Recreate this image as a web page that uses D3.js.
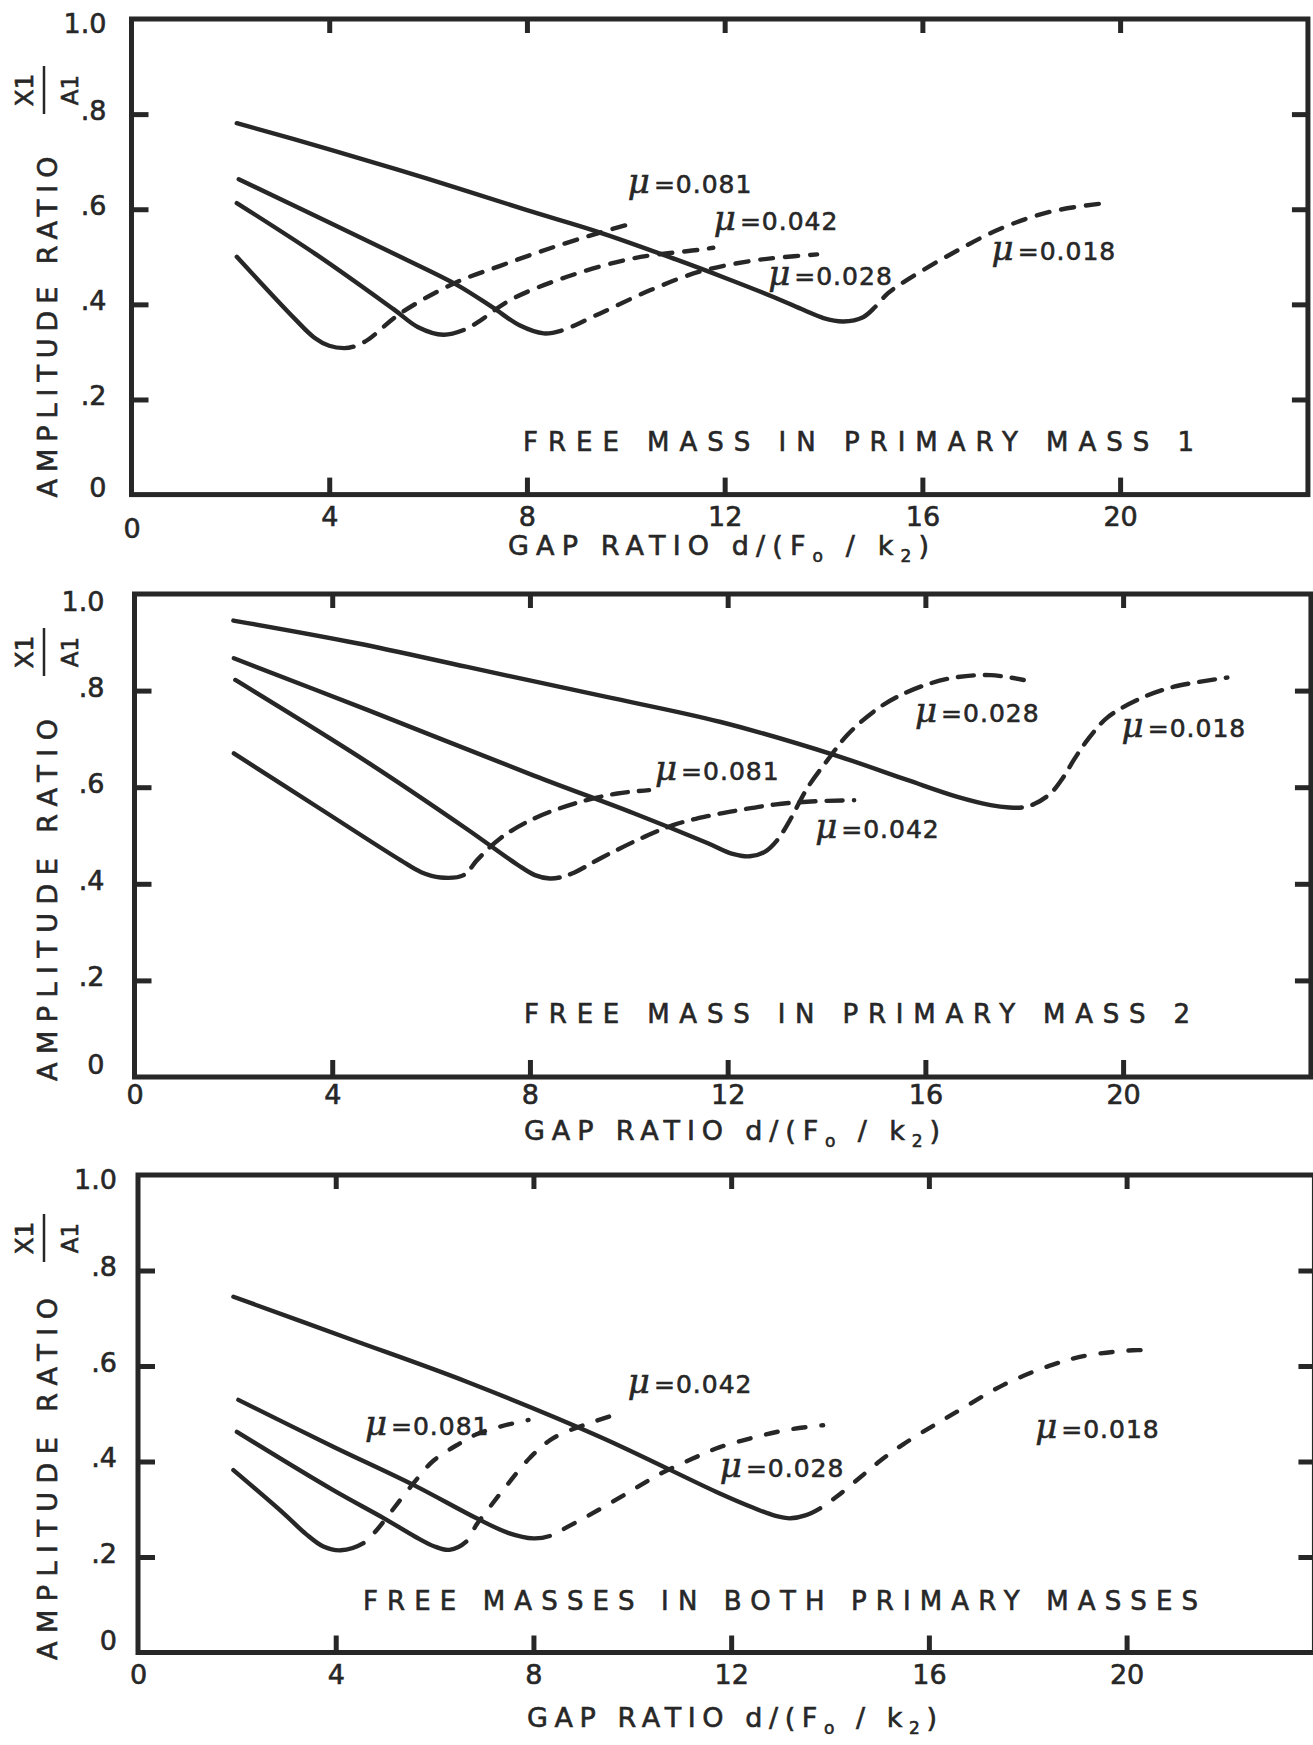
<!DOCTYPE html>
<html>
<head>
<meta charset="utf-8">
<script src="https://cdn.jsdelivr.net/npm/d3@7"></script>
<style>
  html, body { margin: 0; padding: 0; background: #ffffff; }
  svg { display: block; }
  text { font-family: "DejaVu Sans", "Liberation Sans", sans-serif; fill: #272727; stroke: #272727; stroke-width: 0.6px; }
</style>
</head>
<body>
<svg id="chart" width="1313" height="1745"></svg>
<script>
// ---------------- data ----------------
const xTickValues = [0, 4, 8, 12, 16, 20];
const yTickValues = [0, 0.2, 0.4, 0.6, 0.8, 1.0];
const yTickText = ["0", ".2", ".4", ".6", ".8", "1.0"];
const muNames = ["0.081", "0.042", "0.028", "0.018"];
const panelTitles = [
  "FREE MASS IN PRIMARY MASS 1",
  "FREE MASS IN PRIMARY MASS 2",
  "FREE MASSES IN BOTH PRIMARY MASSES"
];
const yTitle = "AMPLITUDE RATIO";
const xTitleParts = ["GAP RATIO d/(F", "o", " / k", "2", ")"];
const fracTop = "X1";
const fracBottom = "A1";

// Points are [gap ratio d/(Fo/k2), amplitude ratio X1/A1].
// Solid part: measured response; dashed part continues from the last solid point.

// Panel 1: free mass in primary mass 1
const m1Mu081Solid  = [[2.13,0.500],[3.30,0.370],[3.70,0.330],[4.00,0.313],[4.30,0.308],[4.49,0.311]];
const m1Mu081Dashed = [[4.49,0.311],[4.76,0.324],[5.44,0.381],[6.52,0.444],[7.46,0.481],[8.47,0.518],[9.48,0.551],[10.09,0.569]];
const m1Mu042Solid  = [[2.13,0.613],[3.75,0.504],[5.30,0.390],[5.80,0.352],[6.31,0.336],[6.72,0.346]];
const m1Mu042Dashed = [[6.72,0.346],[7.00,0.362],[7.66,0.409],[8.81,0.458],[10.16,0.497],[11.50,0.515],[11.77,0.519]];
const m1Mu028Solid  = [[2.17,0.663],[4.00,0.572],[5.50,0.497],[6.60,0.440],[7.30,0.394],[7.85,0.356],[8.34,0.339],[8.70,0.345]];
const m1Mu028Dashed = [[8.70,0.345],[9.48,0.381],[10.50,0.430],[11.50,0.469],[12.45,0.490],[13.06,0.498],[13.87,0.505]];
const m1Mu018Solid  = [[2.13,0.781],[4.00,0.726],[6.00,0.664],[8.00,0.598],[9.42,0.553],[11.00,0.495],[12.00,0.456],[13.00,0.415],[13.60,0.388],[14.00,0.371],[14.40,0.364],[14.80,0.373],[15.05,0.395]];
const m1Mu018Dashed = [[15.05,0.395],[15.30,0.423],[15.70,0.452],[16.60,0.507],[17.60,0.560],[18.60,0.595],[19.70,0.613]];
const m1LabelAt = [[10.04,0.634],[11.78,0.556],[12.88,0.441],[17.40,0.493]];

// Panel 2: free mass in primary mass 2
const m2Mu081Solid  = [[2.01,0.670],[3.70,0.559],[5.38,0.449],[5.80,0.424],[6.19,0.413],[6.66,0.418]];
const m2Mu081Dashed = [[6.66,0.418],[6.93,0.449],[7.41,0.495],[8.08,0.535],[8.96,0.568],[9.77,0.587],[10.41,0.594]];
const m2Mu042Solid  = [[2.04,0.822],[4.71,0.652],[6.73,0.513],[7.74,0.440],[8.10,0.418],[8.40,0.411],[8.60,0.413]];
const m2Mu042Dashed = [[8.60,0.413],[8.89,0.423],[9.43,0.453],[10.31,0.497],[10.91,0.522],[11.59,0.540],[12.26,0.553],[12.94,0.564],[13.61,0.570],[14.56,0.573]];
const m2Mu028Solid  = [[2.01,0.867],[4.71,0.760],[8.08,0.624],[10.10,0.546],[11.60,0.484],[12.10,0.462],[12.45,0.457],[12.75,0.466],[13.00,0.490]];
const m2Mu028Dashed = [[13.00,0.490],[13.25,0.530],[13.61,0.598],[14.02,0.656],[14.42,0.708],[14.96,0.757],[15.43,0.787],[16.04,0.813],[16.65,0.828],[17.32,0.832],[17.99,0.822]];
const m2Mu018Solid  = [[2.00,0.945],[4.50,0.898],[6.73,0.849],[9.50,0.788],[11.86,0.735],[14.15,0.667],[15.63,0.615],[16.65,0.580],[17.32,0.563],[17.70,0.558],[17.95,0.558]];
const m2Mu018Dashed = [[17.95,0.558],[18.20,0.565],[18.53,0.587],[18.80,0.622],[19.00,0.656],[19.28,0.698],[19.68,0.744],[20.36,0.784],[21.03,0.808],[22.11,0.827]];
const m2LabelAt = [[10.53,0.615],[13.77,0.495],[15.79,0.736],[19.97,0.704]];

// Panel 3: free masses in both primary masses
const m3Mu081Solid  = [[1.93,0.382],[2.94,0.292],[3.40,0.248],[3.75,0.222],[4.10,0.214],[4.56,0.229]];
const m3Mu081Dashed = [[4.56,0.229],[4.80,0.253],[5.10,0.292],[5.57,0.354],[5.97,0.401],[6.51,0.438],[6.85,0.457],[7.32,0.473],[7.90,0.487]];
const m3Mu042Solid  = [[2.00,0.462],[3.95,0.340],[4.96,0.282],[5.60,0.243],[6.00,0.222],[6.30,0.215],[6.64,0.232]];
const m3Mu042Dashed = [[6.64,0.232],[6.85,0.268],[7.12,0.305],[7.46,0.350],[7.93,0.408],[8.40,0.449],[9.21,0.483],[9.75,0.501]];
const m3Mu028Solid  = [[2.03,0.529],[3.95,0.431],[5.57,0.351],[6.85,0.281],[7.50,0.250],[8.00,0.239],[8.33,0.244]];
const m3Mu028Dashed = [[8.33,0.244],[8.67,0.262],[9.34,0.300],[10.00,0.340],[10.56,0.374],[11.20,0.405],[11.77,0.430],[12.45,0.450],[13.12,0.466],[13.86,0.476]];
const m3Mu018Solid  = [[1.93,0.745],[4.30,0.656],[6.65,0.567],[9.34,0.452],[11.77,0.333],[12.45,0.303],[12.90,0.286],[13.20,0.281],[13.50,0.287],[13.80,0.302]];
const m3Mu018Dashed = [[13.80,0.302],[14.13,0.326],[14.60,0.366],[15.01,0.401],[15.48,0.436],[16.09,0.475],[16.63,0.508],[17.50,0.560],[18.51,0.603],[19.19,0.622],[20.13,0.633],[20.33,0.633]];
const m3LabelAt = [[4.59,0.455],[9.91,0.543],[11.77,0.368],[18.15,0.449]];

const panels = [
  { title: panelTitles[0], labelAt: m1LabelAt,
    series: [[m1Mu081Solid, m1Mu081Dashed], [m1Mu042Solid, m1Mu042Dashed], [m1Mu028Solid, m1Mu028Dashed], [m1Mu018Solid, m1Mu018Dashed]] },
  { title: panelTitles[1], labelAt: m2LabelAt,
    series: [[m2Mu081Solid, m2Mu081Dashed], [m2Mu042Solid, m2Mu042Dashed], [m2Mu028Solid, m2Mu028Dashed], [m2Mu018Solid, m2Mu018Dashed]] },
  { title: panelTitles[2], labelAt: m3LabelAt,
    series: [[m3Mu081Solid, m3Mu081Dashed], [m3Mu042Solid, m3Mu042Dashed], [m3Mu028Solid, m3Mu028Dashed], [m3Mu018Solid, m3Mu018Dashed]] }
];

// ---------------- layout ----------------
const INK = "#272727";
const UNIT = 49.43;      // px per unit of gap ratio
const X_END = 23.8;      // right edge of each frame
const frames = [
  { x0: 131.5, yOne: 19,   yZero: 494.6,  dash: [13, 12], xPad: 12, zeroDrop: 12, yPad: 25,
    oneShift: 8, zeroShift: -4,
    titleX: 523, titleW: 671, titleY: 451,  gapX: 508, gapW: 421, gapY: 555,
    ampCY: 327, ampLen: 341, fracCY: 90 },
  { x0: 134.5, yOne: 594,  yZero: 1077,   dash: [16, 11], xPad: 8,  zeroDrop: 0,  yPad: 30,
    oneShift: 11, zeroShift: -9,
    titleX: 524, titleW: 666, titleY: 1023, gapX: 524, gapW: 416, gapY: 1140,
    ampCY: 900, ampLen: 362, fracCY: 652 },
  { x0: 138,   yOne: 1175, yZero: 1652.5, dash: [12, 16], xPad: 12, zeroDrop: 0,  yPad: 21,
    oneShift: 8, zeroShift: -8,
    titleX: 363, titleW: 835, titleY: 1610, gapX: 527, gapW: 410, gapY: 1727,
    ampCY: 1479, ampLen: 362, fracCY: 1238 }
];

const svg = d3.select("#chart");

function styleAxis(sel, fontSize) {
  sel.select(".domain").remove();
  sel.selectAll(".tick line").attr("stroke", INK).attr("stroke-width", 5);
  sel.selectAll(".tick text")
    .attr("fill", INK)
    .style("font-size", fontSize + "px")
    .style("font-family", '"DejaVu Sans", sans-serif');
}

panels.forEach((p, i) => {
  const f = frames[i];
  const x = d3.scaleLinear().domain([0, X_END]).range([f.x0, f.x0 + X_END * UNIT]);
  const y = d3.scaleLinear().domain([0, 1]).range([f.yZero, f.yOne]);
  const g = svg.append("g").attr("class", "panel");

  // frame
  g.append("rect")
    .attr("x", x(0)).attr("y", y(1))
    .attr("width", x(X_END) - x(0)).attr("height", y(0) - y(1))
    .attr("fill", "none").attr("stroke", INK).attr("stroke-width", 5);

  // bottom axis with labels, ticks pointing inward
  const bottom = g.append("g").attr("transform", `translate(0,${y(0)})`)
    .call(d3.axisBottom(x).tickValues(xTickValues).tickSize(-17).tickPadding(f.xPad).tickFormat(d3.format("d")));
  styleAxis(bottom, 27);
  const zeroTick = bottom.selectAll(".tick").filter(d => d === 0);
  zeroTick.select("line").remove();
  zeroTick.select("text").attr("transform", `translate(0,${f.zeroDrop})`);

  // left axis
  const left = g.append("g").attr("transform", `translate(${x(0)},0)`)
    .call(d3.axisLeft(y).tickValues(yTickValues).tickSize(-17).tickPadding(f.yPad)
      .tickFormat((d, j) => yTickText[j]));
  styleAxis(left, 27);
  left.selectAll(".tick").filter(d => d === 0 || d === 1).select("line").remove();
  left.selectAll(".tick text").attr("dy", "0.2em");
  left.selectAll(".tick").filter(d => d === 1).select("text").attr("transform", `translate(0,${f.oneShift})`);
  left.selectAll(".tick").filter(d => d === 0).select("text").attr("transform", `translate(0,${f.zeroShift})`);

  // top and right tick marks
  const top = g.append("g").attr("transform", `translate(0,${y(1)})`)
    .call(d3.axisTop(x).tickValues(xTickValues.slice(1)).tickSize(-14).tickFormat(() => ""));
  styleAxis(top, 27);
  const right = g.append("g").attr("transform", `translate(${x(X_END)},0)`)
    .call(d3.axisRight(y).tickValues(yTickValues.slice(1, 5)).tickSize(-16).tickFormat(() => ""));
  styleAxis(right, 27);

  // curves: one smooth path, solid up to the junction then dashed
  const line = d3.line().x(d => x(d[0])).y(d => y(d[1])).curve(d3.curveCatmullRom.alpha(0.5));
  p.series.forEach(([solid, dashed]) => {
    const pts = solid.concat(dashed.slice(1));
    const path = g.append("path").datum(pts)
      .attr("d", line)
      .attr("fill", "none").attr("stroke", INK)
      .attr("stroke-width", 4.4)
      .attr("stroke-linecap", "round").attr("stroke-linejoin", "round");
    const node = path.node();
    const total = node.getTotalLength();
    const jx = x(solid[solid.length - 1][0]);
    let lo = 0, hi = total;
    for (let k = 0; k < 40; k++) {
      const mid = (lo + hi) / 2;
      if (node.getPointAtLength(mid).x < jx) lo = mid; else hi = mid;
    }
    const [dl, gl] = f.dash;
    const arr = [lo, gl];
    let sum = lo + gl;
    while (sum < total + dl + gl) { arr.push(dl, gl); sum += dl + gl; }
    arr.push(0, total + 100);
    path.attr("stroke-dasharray", arr.map(v => v.toFixed(2)).join(" "));
  });

  // curve labels
  p.labelAt.forEach((pos, j) => {
    const t = g.append("text")
      .attr("x", x(pos[0])).attr("y", y(pos[1]))
      .style("font-size", "25px");
    t.append("tspan")
      .style("font-family", '"DejaVu Serif", "Liberation Serif", serif')
      .style("font-style", "italic")
      .style("font-size", "34px")
      .text("\u03bc");
    t.append("tspan").attr("dx", 4).style("letter-spacing", "1px").text("=" + muNames[j]);
  });

  // panel caption
  g.append("text")
    .attr("x", f.titleX).attr("y", f.titleY)
    .attr("textLength", f.titleW).attr("lengthAdjust", "spacing")
    .style("font-size", "26px")
    .text(p.title);

  // x-axis title with subscripts
  const xt = g.append("text")
    .attr("x", f.gapX).attr("y", f.gapY)
    .attr("textLength", f.gapW).attr("lengthAdjust", "spacing")
    .style("font-size", "27px");
  xt.append("tspan").text(xTitleParts[0]);
  xt.append("tspan").attr("dy", 7).style("font-size", "17px").text(xTitleParts[1]);
  xt.append("tspan").attr("dy", -7).text(xTitleParts[2]);
  xt.append("tspan").attr("dy", 7).style("font-size", "17px").text(xTitleParts[3]);
  xt.append("tspan").attr("dy", -7).text(xTitleParts[4]);

  // y-axis title
  g.append("text")
    .attr("transform", `translate(57,${f.ampCY}) rotate(-90)`)
    .attr("text-anchor", "middle")
    .attr("textLength", f.ampLen).attr("lengthAdjust", "spacing")
    .style("font-size", "27px")
    .text(yTitle);

  // rotated X1 / A1 fraction
  g.append("text")
    .attr("transform", `translate(33,${f.fracCY}) rotate(-90)`)
    .attr("text-anchor", "middle")
    .style("font-size", "25px")
    .text(fracTop);
  g.append("line")
    .attr("x1", 44).attr("x2", 44)
    .attr("y1", f.fracCY - 24).attr("y2", f.fracCY + 24)
    .attr("stroke", INK).attr("stroke-width", 2.5);
  g.append("text")
    .attr("transform", `translate(78,${f.fracCY}) rotate(-90)`)
    .attr("text-anchor", "middle")
    .style("font-size", "23px")
    .text(fracBottom);
});
</script>
</body>
</html>
